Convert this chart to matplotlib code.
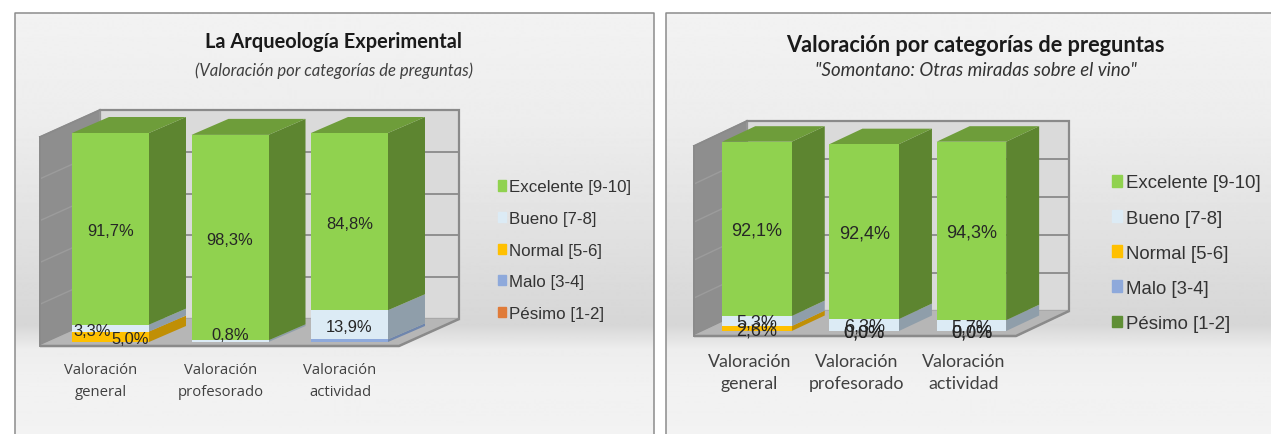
import numpy as np
import matplotlib
matplotlib.use("Agg")
import matplotlib.pyplot as plt
from matplotlib.patches import Patch, Rectangle

W, H = 1271, 435

categories = ["Valoración\ngeneral", "Valoración\nprofesorado", "Valoración\nactividad"]
series_names = ["Pésimo [1-2]", "Malo [3-4]", "Normal [5-6]", "Bueno [7-8]", "Excelente [9-10]"]

# Left chart values (%)
left_pesimo = [0.0, 0.0, 0.0]
left_malo = [0.0, 0.0, 1.3]
left_normal = [5.0, 0.0, 0.0]
left_bueno = [3.3, 0.8, 13.9]
left_excelente = [91.7, 98.3, 84.8]

# Right chart values (%)
right_pesimo = [0.0, 0.0, 0.0]
right_malo = [0.0, 0.0, 0.0]
right_normal = [2.6, 0.0, 0.0]
right_bueno = [5.3, 6.3, 5.7]
right_excelente = [92.1, 92.4, 94.3]

FRONT = {"Pésimo": "#e07b39", "Malo": "#8ea9db", "Normal": "#ffc000", "Bueno": "#dcebf5", "Excelente": "#90d24f"}
SIDE = {"Pésimo": "#a85a28", "Malo": "#6f86ad", "Normal": "#c08f05", "Bueno": "#8f9eaa", "Excelente": "#5d8530"}
TOP = {"Pésimo": "#b86630", "Malo": "#7d94bd", "Normal": "#d0a010", "Bueno": "#a8b5bf", "Excelente": "#6e9d3a"}
KEYS = ["Pésimo", "Malo", "Normal", "Bueno", "Excelente"]

fig = plt.figure(figsize=(W / 100, H / 100), dpi=100, facecolor="white")


def rect(x0, x1, ytop, ybot):
    return [x0 / W, 1 - ybot / H, (x1 - x0) / W, (ybot - ytop) / H]


# Panel backgrounds
bg = fig.add_axes([0, 0, 1, 1], zorder=0)
bg.set_xlim(0, W)
bg.set_ylim(H, 0)
bg.axis("off")
ys = np.arange(0, H + 1)
stops_y = [14, 120, 250, 325, 350, 380, 435]
stops_v = [0.95, 0.93, 0.875, 0.84, 0.93, 0.945, 0.95]
grad = np.interp(ys, stops_y, stops_v).reshape(-1, 1)
for x0, x1 in [(15, 654), (666, 1275)]:
    im = bg.imshow(grad, extent=(x0, x1, H, 0), aspect="auto", cmap="gray", vmin=0, vmax=1, zorder=1)
    im.set_clip_path(Rectangle((x0, 14), x1 - x0, H, transform=bg.transData))
    bg.plot([x0, x0, x1, x1], [H + 3, 14, 14, H + 3], color="#8c8c8c", lw=1.1, zorder=2, clip_on=False)
bg.set_xlim(0, W)
bg.set_ylim(H, 0)


def chart(g, series, labels):
    ax = fig.add_axes(rect(g["fx0"], g["fx1"], g["ftop"], g["fbot"]), zorder=2)
    ax.patch.set_alpha(0)
    sy = g["sy"]
    sx = g["spacing"]
    x = np.arange(3)
    xmin = (g["fx0"] - g["c0"]) / sx
    xmax = (g["fx1"] - g["c0"]) / sx
    ymin = (g["y0"] - g["fbot"]) / sy
    ymax = (g["y0"] - g["ftop"]) / sy
    ax.set_xlim(xmin, xmax)
    ax.set_ylim(ymin, ymax)
    for s in ax.spines.values():
        s.set_visible(False)
    ax.set_yticks([])
    ax.set_xticks(x + g["tick_off"] / sx, categories, fontsize=g["tick_fs"], family=g["tick_font"],
                  color="#404040", linespacing=g["tick_ls"])
    ax.tick_params(axis="x", length=0, pad=g["tick_pad"])

    wdx, wdy = g["wdx"] / sx, g["wdy"] / sy
    wall_h = ymax - ymin
    edge = "#8a8a8a"
    # back wall
    ax.fill([xmin + wdx, xmax + wdx, xmax + wdx, xmin + wdx],
            [ymin + wdy, ymin + wdy, ymax + wdy, ymax + wdy], color="#dadada", ec=edge, lw=1.6, clip_on=False, zorder=1)
    # side wall
    ax.fill([xmin, xmin + wdx, xmin + wdx, xmin], [ymin, ymin + wdy, ymax + wdy, ymax],
            color="#8e8e8e", ec="#9a9a9a", lw=1.0, clip_on=False, zorder=2)
    # floor
    ax.fill([xmin, xmax, xmax + wdx, xmin + wdx], [ymin, ymin, ymin + wdy, ymin + wdy],
            color="#b6b6b6", clip_on=False, zorder=2)
    ax.plot([xmin, xmax, xmax + wdx], [ymin, ymin, ymin + wdy], color=edge, lw=1.8, clip_on=False, zorder=3,
            solid_capstyle="butt")
    ax.plot([xmin, xmin], [ymin, ymax], color=edge, lw=1.4, clip_on=False, zorder=3)
    ax.plot([xmin, xmin + wdx], [ymax, ymax + wdy], color=edge, lw=1.4, clip_on=False, zorder=3)
    for t in [20, 40, 60, 80]:
        yy = ymin + wdy + t * (wall_h / 100)
        ax.plot([xmin + wdx, xmax + wdx], [yy, yy], color=edge, lw=1.3, clip_on=False, zorder=1.5)
        ax.plot([xmin, xmin + wdx], [ymin + t * (wall_h / 100), yy], color="#9c9c9c", lw=1.0, clip_on=False, zorder=2.5)

    # bars
    bw = g["bw"] / sx
    dx, dy = g["dx"] / sx, g["dy"] / sy
    for i in x:
        base = 0.0
        zb = 4 + i
        left, right = i - bw / 2, i + bw / 2
        for key, vals in zip(KEYS, series):
            v = vals[i]
            if v > 0:
                ax.fill([right, right + dx, right + dx, right], [base, base + dy, base + v + dy, base + v],
                        color=SIDE[key], lw=0, clip_on=False, zorder=zb)
                ax.bar(i, v, bw, bottom=base, color=FRONT[key], lw=0, zorder=zb + 0.1, clip_on=False)
            base += v
        ax.fill([left, right, right + dx, left + dx], [base, base, base + dy, base + dy],
                color=TOP["Excelente"], lw=0, clip_on=False, zorder=zb)
    # labels
    for i, key_idx, ox, oy in labels:
        vals = series[key_idx]
        base = sum(series[k][i] for k in range(key_idx))
        txt = f"{vals[i]:.1f}%".replace(".", ",")
        ax.annotate(txt, (i, base + vals[i] / 2), xytext=(ox * 0.72, (oy + g["lab_oy"]) * 0.72),
                    textcoords="offset points",
                    ha="center", va="center", fontsize=g["lab_fs"], family="Liberation Sans",
                    color="#262626", zorder=20, annotation_clip=False)
    # legend
    colors = g["legend_colors"]
    handles = [Patch(color=c, label=n) for c, n in zip(colors, series_names[::-1])]
    leg = ax.legend(handles=handles, loc="upper left",
                    bbox_to_anchor=(g["leg_x"] / W, 1 - g["leg_y"] / H), bbox_transform=fig.transFigure,
                    frameon=False, fontsize=g["leg_fs"], handlelength=g["hl"], handleheight=g["hh"],
                    handletextpad=g["htp"], labelspacing=g["lsp"], borderpad=0, borderaxespad=0)
    for t in leg.get_texts():
        t.set_family("Liberation Sans")
        t.set_color("#333333")
    return ax


left_geom = dict(fx0=40, fx1=399, ftop=138, fbot=347, y0=343, sy=2.09, c0=110.5, spacing=119.5, bw=77,
                 wdx=60, wdy=27, dx=37, dy=16, tick_off=-9.5, tick_fs=10.7, tick_font="Open Sans", tick_ls=1.6,
                 tick_pad=11.7, lab_fs=11.9, lab_oy=-2,
                 legend_colors=[FRONT["Excelente"], FRONT["Bueno"], FRONT["Normal"], FRONT["Malo"], FRONT["Pésimo"]],
                 leg_x=498, leg_y=180.5, leg_fs=12.2, hl=0.5, hh=0.55, htp=0.15, lsp=0.98)
right_geom = dict(fx0=694, fx1=1016, ftop=147, fbot=337, y0=332, sy=1.893, c0=757, spacing=107.2, bw=69.5,
                  wdx=53, wdy=25, dx=33, dy=15.5, tick_off=-7.5, tick_fs=12.8, tick_font="Lato", tick_ls=1.5,
                  tick_pad=12, lab_fs=13, lab_oy=-1,
                  legend_colors=[FRONT["Excelente"], FRONT["Bueno"], FRONT["Normal"], FRONT["Malo"], "#5f8f35"],
                  leg_x=1112, leg_y=175.5, leg_fs=13.4, hl=0.55, hh=0.55, htp=0.2, lsp=0.97)

# (category, series index, x offset px, y offset px)
left_labels = [(0, 4, 0, 0), (1, 4, 0, 0), (2, 4, 0, 0), (0, 3, -18.5, 0), (0, 2, 19.5, 0),
               (1, 3, 0, 9), (2, 3, 0, 0)]
right_labels = [(0, 4, 0, 0), (1, 4, 0, 0), (2, 4, 0, 0), (0, 3, 0, 0), (0, 2, 0, 0),
                (1, 3, 0, 0), (2, 3, 0, 0), (1, 2, 0, 0), (2, 2, 0, 0), (1, 1, 0, 0), (2, 1, 0, 0)]

chart(left_geom, [left_pesimo, left_malo, left_normal, left_bueno, left_excelente], left_labels)
chart(right_geom, [right_pesimo, right_malo, right_normal, right_bueno, right_excelente], right_labels)

fig.text(333 / W, 1 - 41.5 / H, "La Arqueología Experimental", ha="center", va="center", fontsize=14.4, weight="bold",
         family="Lato", color="#1a1a1a", zorder=5)
fig.text(334 / W, 1 - 70.5 / H, "(Valoración por categorías de preguntas)", ha="center", va="center", fontsize=12,
         style="italic", family="Lato", color="#404040", zorder=5)
fig.text(975 / W, 1 - 45 / H, "Valoración por categorías de preguntas", ha="center", va="center", fontsize=15.7,
         weight="bold", family="Lato", color="#1a1a1a", zorder=5)
fig.text(976 / W, 1 - 70 / H, '"Somontano: Otras miradas sobre el vino"', ha="center", va="center", fontsize=13.4,
         style="italic", family="Lato", color="#333333", zorder=5)

fig.savefig("out.png", dpi=100)
